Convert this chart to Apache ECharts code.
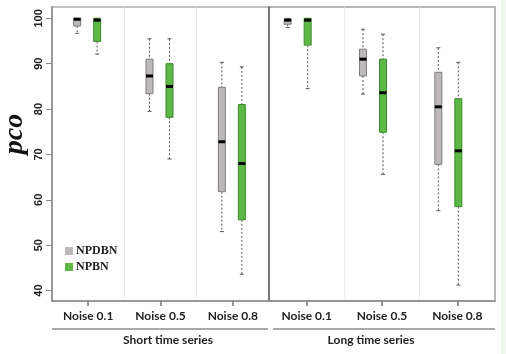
<!DOCTYPE html>
<html>
<head>
<meta charset="utf-8">
<script src="https://cdn.jsdelivr.net/npm/echarts@6/dist/echarts.min.js"></script>
<style>
  html, body { margin: 0; padding: 0; background: #fff; }
  #main { width: 506px; height: 354px; }
</style>
</head>
<body>
<div id="main"></div>
<script>
// categories + tick labels
var categories = ['Noise 0.1', 'Noise 0.5', 'Noise 0.8'];
var yTicks = [40, 50, 60, 70, 80, 90, 100];

// box stats per category: [min, q1, median, q3, max]
var npdbnShort = [[96.7, 98.3, 99.8, 100, 100], [79.5, 83.4, 87.3, 91.0, 95.5], [53.0, 61.8, 72.8, 84.8, 90.3]];
var npbnShort = [[92.1, 94.9, 99.6, 100, 100], [69.0, 78.2, 85.0, 90.0, 95.5], [43.6, 55.6, 68.0, 81.0, 89.3]];
var npdbnLong = [[98.0, 98.7, 99.6, 99.9, 100], [83.3, 87.3, 91.0, 93.2, 97.6], [57.6, 67.8, 80.5, 88.1, 93.5]];
var npbnLong = [[84.5, 94.1, 99.6, 100, 100], [65.6, 74.9, 83.6, 91.0, 96.5], [41.2, 58.5, 70.8, 82.3, 90.3]];

var GRAY = '#bdb9b9', GRAY_EDGE = '#7d7d7d';
var GREEN = '#5cb946', GREEN_EDGE = '#3d8a2c';

function toData(arr) {
  return arr.map(function (s, i) { return [i].concat(s); });
}

// draw one box with dotted whiskers, shifted by dx pixels from the category center
function makeRender(dx, fill, edge) {
  return function (params, api) {
    var x = api.coord([api.value(0), 0])[0] + dx;
    var lo = api.coord([api.value(0), api.value(1)])[1];
    var q1 = api.coord([api.value(0), api.value(2)])[1];
    var md = api.coord([api.value(0), api.value(3)])[1];
    var q3 = api.coord([api.value(0), api.value(4)])[1];
    var hi = api.coord([api.value(0), api.value(5)])[1];
    var w = 7;
    var dash = { stroke: '#555', lineWidth: 1, lineDash: [2, 2] };
    var cap = { stroke: '#555', lineWidth: 1 };
    return {
      type: 'group',
      children: [
        { type: 'line', shape: { x1: x, y1: hi, x2: x, y2: q3 }, style: dash },
        { type: 'line', shape: { x1: x, y1: q1, x2: x, y2: lo }, style: dash },
        { type: 'line', shape: { x1: x - 2, y1: hi, x2: x + 2, y2: hi }, style: cap },
        { type: 'line', shape: { x1: x - 2, y1: lo, x2: x + 2, y2: lo }, style: cap },
        { type: 'rect', shape: { x: x - w / 2, y: q3, width: w, height: Math.max(q1 - q3, 1) },
          style: { fill: fill, stroke: edge, lineWidth: 1 } },
        { type: 'line', shape: { x1: x - w / 2, y1: md, x2: x + w / 2, y2: md },
          style: { stroke: '#000', lineWidth: 3 } }
      ]
    };
  };
}

var chart = echarts.init(document.getElementById('main'), null, { renderer: 'canvas' });

var xAxisCommon = {
  type: 'category',
  data: categories,
  axisLine: { show: true, lineStyle: { color: '#8c8c8c', width: 1.5 } },
  axisTick: { show: true, alignWithLabel: true, length: 5, lineStyle: { color: '#777', width: 1.5 } },
  axisLabel: { margin: 9, color: '#222', fontFamily: 'Lato', fontWeight: 'bold', fontSize: 12 },
  splitLine: { show: true, showMinLine: false, showMaxLine: false, lineStyle: { color: '#dcdcdc', type: 'dotted' } }
};

var yAxisCommon = {
  type: 'value',
  min: 37.7,
  max: 102.5,
  splitLine: { show: false }
};

var option = {
  backgroundColor: '#fff',
  animation: false,
  grid: [
    { left: 52, right: 237, top: 7, bottom: 53, show: true, borderColor: '#b0b0b0', borderWidth: 1.5 },
    { left: 269, right: 11, top: 7, bottom: 53, show: true, borderColor: '#a0a0a0', borderWidth: 1.5 }
  ],
  legend: {
    orient: 'vertical',
    left: 60,
    top: 240,
    itemWidth: 8,
    itemHeight: 8,
    itemGap: 4,
    icon: 'rect',
    textStyle: { fontFamily: 'Liberation Serif', fontWeight: 'bold', fontSize: 12, color: '#222', padding: [0, 0, 0, -2] },
    data: ['NPDBN', 'NPBN']
  },
  xAxis: [
    Object.assign({ gridIndex: 0 }, xAxisCommon),
    Object.assign({ gridIndex: 1 }, xAxisCommon)
  ],
  yAxis: [
    Object.assign({ gridIndex: 0 }, yAxisCommon, {
      axisLine: { show: true, lineStyle: { color: '#8c8c8c', width: 1.5 } },
      axisTick: { show: true, length: 6, customValues: yTicks, lineStyle: { color: '#8c8c8c' } },
      axisLabel: { show: true, rotate: 90, margin: 8, customValues: yTicks,
        color: '#222', fontFamily: 'Liberation Sans', fontWeight: 'bold', fontSize: 11 }
    }),
    Object.assign({ gridIndex: 1 }, yAxisCommon, {
      axisLine: { show: true, lineStyle: { color: '#666', width: 1.5 } },
      axisTick: { show: false },
      axisLabel: { show: false }
    })
  ],
  series: [
    { name: 'NPDBN', type: 'custom', xAxisIndex: 0, yAxisIndex: 0, itemStyle: { color: GRAY },
      renderItem: makeRender(-11, GRAY, GRAY_EDGE), data: toData(npdbnShort) },
    { name: 'NPBN', type: 'custom', xAxisIndex: 0, yAxisIndex: 0, itemStyle: { color: GREEN },
      renderItem: makeRender(9, GREEN, GREEN_EDGE), data: toData(npbnShort) },
    { name: 'NPDBN', type: 'custom', xAxisIndex: 1, yAxisIndex: 1, itemStyle: { color: GRAY },
      renderItem: makeRender(-19, GRAY, GRAY_EDGE), data: toData(npdbnLong) },
    { name: 'NPBN', type: 'custom', xAxisIndex: 1, yAxisIndex: 1, itemStyle: { color: GREEN },
      renderItem: makeRender(1, GREEN, GREEN_EDGE), data: toData(npbnLong) }
  ],
  graphic: [
    // pale strip on the right edge
    { type: 'rect', shape: { x: 501, y: 0, width: 5, height: 354 }, style: { fill: '#eef6ee' }, silent: true },
    // y axis title
    { type: 'text', x: 15, y: 134, rotation: Math.PI / 2,
      style: { text: 'pco', font: 'italic bold 28px "Liberation Serif"', fill: '#111', align: 'center', verticalAlign: 'middle' } },
    // group brackets
    { type: 'line', shape: { x1: 52, y1: 329, x2: 268, y2: 329 }, style: { stroke: '#8c8c8c', lineWidth: 1.5 } },
    { type: 'line', shape: { x1: 273, y1: 329, x2: 495, y2: 329 }, style: { stroke: '#8c8c8c', lineWidth: 1.5 } },
    { type: 'text', x: 168, y: 340,
      style: { text: 'Short time series', font: 'bold 12px Lato', fill: '#222', align: 'center', verticalAlign: 'middle' } },
    { type: 'text', x: 371, y: 340,
      style: { text: 'Long time series', font: 'bold 12px Lato', fill: '#222', align: 'center', verticalAlign: 'middle' } }
  ]
};

chart.setOption(option);
</script>
</body>
</html>
